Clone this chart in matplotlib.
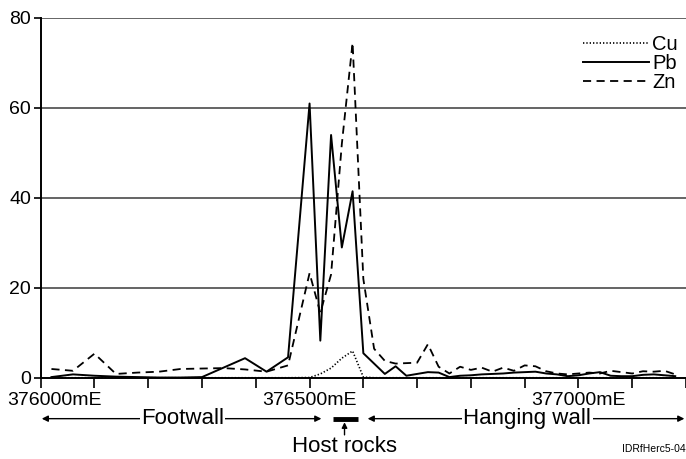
import matplotlib.pyplot as plt
import matplotlib.transforms as mtransforms


easting = [
    376020, 376060, 376100, 376140, 376180, 376220, 376260, 376300, 376340,
    376380, 376420, 376460, 376500, 376520, 376540, 376560, 376580, 376600,
    376620, 376640, 376660, 376680, 376700, 376720, 376740, 376760, 376780,
    376800, 376820, 376840, 376860, 376880, 376900, 376920, 376940, 376960,
    376980, 377000, 377020, 377040, 377060, 377080, 377100, 377120, 377140,
    377160, 377180,
]
cu = [
    0.05, 0.05, 0.05, 0.05, 0.05, 0.05, 0.05, 0.05, 0.05,
    0.05, 0.05, 0.05, 0.1, 0.9, 2.2, 4.4, 6.0, 0.2,
    0.05, 0.05, 0.05, 0.05, 0.05, 0.05, 0.05, 0.05, 0.05,
    0.05, 0.05, 0.05, 0.05, 0.05, 0.05, 0.05, 0.05, 0.05,
    0.05, 0.05, 0.05, 0.05, 0.05, 0.05, 0.05, 0.05, 0.05,
    0.05, 0.05,
]
pb = [
    0.2, 0.8, 0.5, 0.3, 0.2, 0.1, 0.1, 0.2, 2.3,
    4.4, 1.4, 4.6, 61.0, 8.3, 54.0, 29.0, 41.5, 5.5,
    3.2, 0.9, 2.6, 0.5, 0.9, 1.3, 1.2, 0.2, 0.5,
    0.6, 0.8, 0.9, 1.0, 1.2, 1.3, 1.4, 1.0, 0.8,
    0.4, 0.6, 1.0, 1.3, 0.5, 0.4, 0.4, 0.7, 0.8,
    0.6, 0.4,
]
zn = [
    2.0, 1.6, 5.4, 0.9, 1.2, 1.4, 2.0, 2.1, 2.2,
    1.9, 1.4, 2.8, 23.3, 14.5, 23.0, 52.0, 74.5, 22.0,
    6.5, 3.8, 3.2, 3.3, 3.4, 7.5, 2.5, 1.0, 2.5,
    1.8, 2.3, 1.4, 2.3, 1.6, 2.8, 2.6, 1.5, 1.0,
    0.8, 1.0, 1.2, 1.0, 1.6, 1.3, 1.0, 1.5, 1.4,
    1.6, 0.8,
]
y_ticks = [0, 20, 40, 60, 80]
x_label_ticks = [376000, 376500, 377000]
x_labels = ["376000mE", "376500mE", "377000mE"]

# Footwall / host rocks / hanging wall zones along the section
footwall = (376002, 376522)
host_rocks = (376543, 376590)
hanging_wall = (376608, 377197)


def main() -> None:
    plt.rcParams["font.family"] = ["Liberation Sans", "DejaVu Sans"]
    plt.rcParams["font.size"] = 14

    fig = plt.figure(figsize=(6.86, 4.59), dpi=100)
    ax = fig.add_axes([0.0593, 0.1765, 0.9407, 0.7843])

    ax.plot(easting, cu, color="black", lw=1.2, linestyle=(0, (0.8, 1.2)), label="Cu")
    ax.plot(easting, pb, color="black", lw=1.4, label="Pb")
    ax.plot(easting, zn, color="black", lw=1.3, linestyle=(0, (4.5, 3)), label="Zn")

    ax.set_xlim(376000, 377200)
    ax.set_ylim(0, 80)
    ax.set_yticks(y_ticks)
    ax.set_xticks(range(376000, 377201, 100))
    ax.set_xticklabels([x_labels[x_label_ticks.index(t)] if t in x_label_ticks else ""
                        for t in range(376000, 377201, 100)])

    for val in y_ticks[1:]:
        ax.axhline(val, color="#3a3a3a", lw=1.1, zorder=0)

    for side in ["top", "right"]:
        ax.spines[side].set_visible(False)
    ax.spines["left"].set_linewidth(1.4)
    ax.spines["bottom"].set_linewidth(1.4)
    ax.tick_params(axis="x", direction="out", length=7, width=1.2, pad=3)
    ax.tick_params(axis="y", direction="out", length=5, width=1.2, pad=2)

    # first easting label sits a little right of its tick
    first = ax.get_xticklabels()[0]
    first.set_transform(first.get_transform()
                        + mtransforms.ScaledTranslation(0.14, 0, fig.dpi_scale_trans))

    ax.legend(loc="upper right", frameon=False, handlelength=3.3, fontsize=14.5,
              handletextpad=0.15, labelspacing=0.0,
              bbox_to_anchor=(1.0, 0.975), borderaxespad=0)

    # zone arrows below the axis
    trans = mtransforms.blended_transform_factory(ax.transData, ax.transAxes)
    arrow = dict(arrowstyle="<|-|>", color="black", lw=1.0,
                 mutation_scale=9, shrinkA=0, shrinkB=0)
    zones = [(footwall, "Footwall", 376264), (hanging_wall, "Hanging wall", 376905)]
    for (x0, x1), name, xc in zones:
        ax.annotate("", xy=(x0, -0.113), xytext=(x1, -0.113), xycoords=trans,
                    textcoords=trans, arrowprops=arrow, annotation_clip=False)
        ax.text(xc, -0.113, name, transform=trans, ha="center", va="center",
                fontsize=16, bbox=dict(facecolor="white", edgecolor="none", pad=1.0))

    ax.plot(host_rocks, [-0.113, -0.113], color="black", lw=3.5, transform=trans,
            clip_on=False, solid_capstyle="butt")
    mid = 376565
    ax.annotate("", xy=(mid, -0.123), xytext=(mid, -0.158), xycoords=trans,
                textcoords=trans, annotation_clip=False,
                arrowprops=dict(arrowstyle="-|>", color="black", lw=1.0,
                                mutation_scale=8, shrinkA=0, shrinkB=0))
    ax.text(mid, -0.19, "Host rocks", transform=trans, ha="center", va="center",
            fontsize=16)

    fig.text(0.999, 0.022, "IDRfHerc5-04", ha="right", va="center", fontsize=7.5)

    fig.savefig("out.png", dpi=100)
    plt.close(fig)


if __name__ == "__main__":
    main()
